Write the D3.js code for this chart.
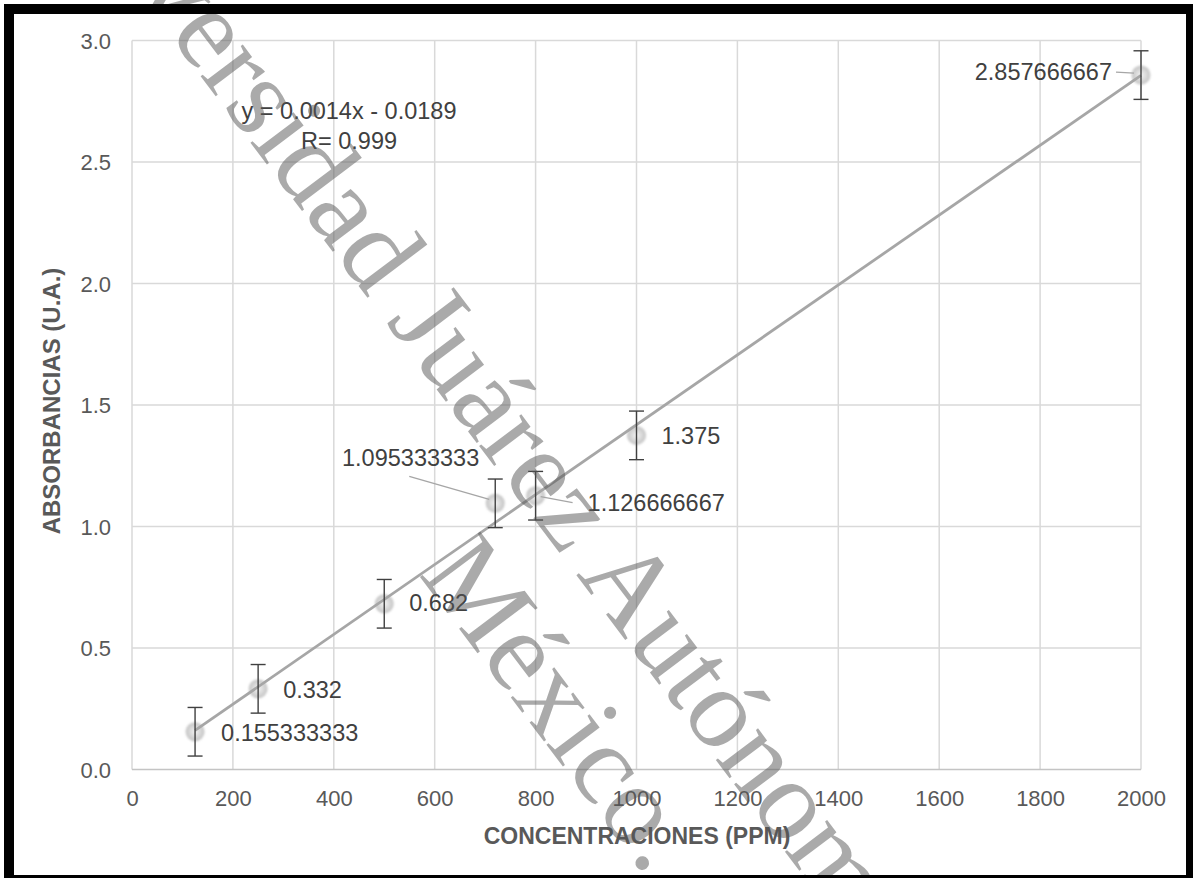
<!DOCTYPE html>
<html>
<head>
<meta charset="utf-8">
<script src="https://cdn.jsdelivr.net/npm/d3@7"></script>
<style>
  html, body { margin: 0; padding: 0; background: #fff; }
  svg { display: block; }
  text { font-family: "Liberation Sans", Arial, sans-serif; }
</style>
</head>
<body>
<svg id="chart" width="1193" height="878"></svg>
<script>
// Calibration data: concentration (ppm) vs. absorbance (u.a.)
const concentrations = [125, 250, 500, 720, 800, 1000, 2000];
const absorbances = [0.155333333, 0.332, 0.682, 1.095333333, 1.126666667, 1.375, 2.857666667];
const errorBars = [0.1, 0.1, 0.1, 0.1, 0.1, 0.1, 0.1];
const pointLabels = ["0.155333333", "0.332", "0.682", "1.095333333", "1.126666667", "1.375", "2.857666667"];
const xTicks = [0, 200, 400, 600, 800, 1000, 1200, 1400, 1600, 1800, 2000];
const yTicks = [0, 0.5, 1.0, 1.5, 2.0, 2.5, 3.0];
const equationLines = ["y = 0.0014x - 0.0189", "R= 0.999"];
const xTitle = "CONCENTRACIONES (PPM)";
const yTitle = "ABSORBANCIAS (U.A.)";
const watermarkLines = ["Universidad Juárez Autónoma de Tabasco", "México."];

// Label placement relative to each point (pixels), with optional leader lines
const labelPlacement = [
  { dx: 26, dy: 1, anchor: "start" },
  { dx: 25, dy: 1, anchor: "start" },
  { dx: 25, dy: -1, anchor: "start" },
  { dx: -16, dy: -46, anchor: "end", leader: [[-86, -27], [-6, -4]] },
  { dx: 52, dy: 7, anchor: "start", leader: [[5, 1], [37, 7]] },
  { dx: 25, dy: 0, anchor: "start" },
  { dx: -29, dy: -4, anchor: "end", leader: [[-25, -3], [-7, -2]] }
];

const data = concentrations.map((c, i) => ({ x: c, y: absorbances[i], e: errorBars[i], label: pointLabels[i], place: labelPlacement[i] }));

const svg = d3.select("#chart");
svg.append("rect").attr("width", 1193).attr("height", 878).attr("fill", "#fff");

const x = d3.scaleLinear().domain([0, 2000]).range([132, 1141]);
const y = d3.scaleLinear().domain([0, 3]).range([769.5, 40.5]);

const defs = svg.append("defs");
const grad = defs.append("radialGradient").attr("id", "marker-fill");
grad.append("stop").attr("offset", "0%").attr("stop-color", "#f4f4f4");
grad.append("stop").attr("offset", "40%").attr("stop-color", "#e0e0e0");
grad.append("stop").attr("offset", "100%").attr("stop-color", "#c4c4c4");
defs.append("filter").attr("id", "soft").append("feGaussianBlur").attr("stdDeviation", 0.8);

// Gridlines
const grid = svg.append("g");
grid.selectAll("line.v").data(xTicks).join("line")
  .attr("x1", d => x(d)).attr("x2", d => x(d))
  .attr("y1", y(3)).attr("y2", y(0))
  .attr("stroke", "#d9d9d9").attr("stroke-width", 1.5);
grid.selectAll("line.h").data(yTicks).join("line")
  .attr("x1", x(0)).attr("x2", x(2000))
  .attr("y1", d => y(d)).attr("y2", d => y(d))
  .attr("stroke", d => d === 0 ? "#c4c4c4" : "#d9d9d9").attr("stroke-width", 1.5);

// Axes (labels only)
const xAxis = d3.axisBottom(x).tickValues(xTicks).tickSize(0).tickPadding(0).tickFormat(d3.format("d"));
const gx = svg.append("g").attr("transform", `translate(0, ${y(0) + 29})`).call(xAxis);
gx.select(".domain").remove();
gx.selectAll("text").attr("fill", "#595959").attr("font-size", 22).attr("dy", "0.32em")
  .attr("font-family", "'Liberation Sans', Arial, sans-serif");

const yAxis = d3.axisLeft(y).tickValues(yTicks).tickSize(0).tickPadding(0).tickFormat(d3.format(".1f"));
const gy = svg.append("g").attr("transform", `translate(111, 0)`).call(yAxis);
gy.select(".domain").remove();
gy.selectAll("text").attr("fill", "#595959").attr("font-size", 22).attr("dy", "0.36em")
  .attr("font-family", "'Liberation Sans', Arial, sans-serif");

// Axis titles
svg.append("text").attr("x", 637).attr("y", 844).attr("text-anchor", "middle")
  .attr("font-size", 23).attr("font-weight", "bold").attr("fill", "#595959").text(xTitle);
svg.append("text").attr("transform", "translate(60, 401) rotate(-90)").attr("text-anchor", "middle")
  .attr("font-size", 24).attr("font-weight", "bold").attr("fill", "#595959").text(yTitle);

// Markers
svg.append("g").selectAll("circle").data(data).join("circle")
  .attr("cx", d => x(d.x)).attr("cy", d => y(d.y)).attr("r", 9.5)
  .attr("fill", "url(#marker-fill)").attr("filter", "url(#soft)");

// Least-squares trendline across the data range
const mx = d3.mean(data, d => d.x), my = d3.mean(data, d => d.y);
const slope = d3.sum(data, d => (d.x - mx) * (d.y - my)) / d3.sum(data, d => (d.x - mx) ** 2);
const intercept = my - slope * mx;
const xr = d3.extent(data, d => d.x);
svg.append("path")
  .datum(xr.map(v => [v, slope * v + intercept]))
  .attr("d", d3.line().x(d => x(d[0])).y(d => y(d[1])))
  .attr("stroke", "#a6a6a6").attr("stroke-width", 2.8).attr("fill", "none");

// Error bars
const eb = svg.append("g").attr("stroke", "#404040").attr("stroke-width", 1.4);
data.forEach(d => {
  const cx = x(d.x);
  eb.append("line").attr("x1", cx).attr("x2", cx).attr("y1", y(d.y - d.e)).attr("y2", y(d.y + d.e));
  eb.append("line").attr("x1", cx - 7.5).attr("x2", cx + 7.5).attr("y1", y(d.y - d.e)).attr("y2", y(d.y - d.e));
  eb.append("line").attr("x1", cx - 7.5).attr("x2", cx + 7.5).attr("y1", y(d.y + d.e)).attr("y2", y(d.y + d.e));
});

// Leader lines and data labels
data.filter(d => d.place.leader).forEach(d => {
  const [a, b] = d.place.leader;
  svg.append("line")
    .attr("x1", x(d.x) + a[0]).attr("y1", y(d.y) + a[1])
    .attr("x2", x(d.x) + b[0]).attr("y2", y(d.y) + b[1])
    .attr("stroke", "#a6a6a6").attr("stroke-width", 1.3);
});
svg.append("g").selectAll("text").data(data).join("text")
  .attr("x", d => x(d.x) + d.place.dx).attr("y", d => y(d.y) + d.place.dy)
  .attr("dy", "0.36em").attr("text-anchor", d => d.place.anchor)
  .attr("font-size", 23.5).attr("fill", "#404040").text(d => d.label);

// Trendline equation
svg.append("g").selectAll("text").data(equationLines).join("text")
  .attr("x", 349).attr("y", (d, i) => 111 + i * 30).attr("dy", "0.36em").attr("text-anchor", "middle")
  .attr("font-size", 23.5).attr("fill", "#404040").text(d => d);

// Diagonal watermark
const wm = svg.append("g").attr("transform", "translate(30, -150) rotate(53)")
  .attr("fill", "#555").attr("fill-opacity", 0.5)
  .attr("font-size", 115);
wm.append("text").attr("x", 0).attr("y", 0).style("font-family", "'Liberation Serif', 'Times New Roman', serif").text(watermarkLines[0]);
wm.append("text").attr("x", 812).attr("y", 126).style("font-family", "'Liberation Serif', 'Times New Roman', serif").text(watermarkLines[1]);

// Black frame
const frame = svg.append("g").attr("fill", "#000");
frame.append("rect").attr("x", 4).attr("y", 4).attr("width", 1189).attr("height", 10);
frame.append("rect").attr("x", 4).attr("y", 4).attr("width", 10).attr("height", 874);
frame.append("rect").attr("x", 1186).attr("y", 4).attr("width", 7).attr("height", 874);
frame.append("rect").attr("x", 4).attr("y", 875).attr("width", 1189).attr("height", 3);
</script>
</body>
</html>
